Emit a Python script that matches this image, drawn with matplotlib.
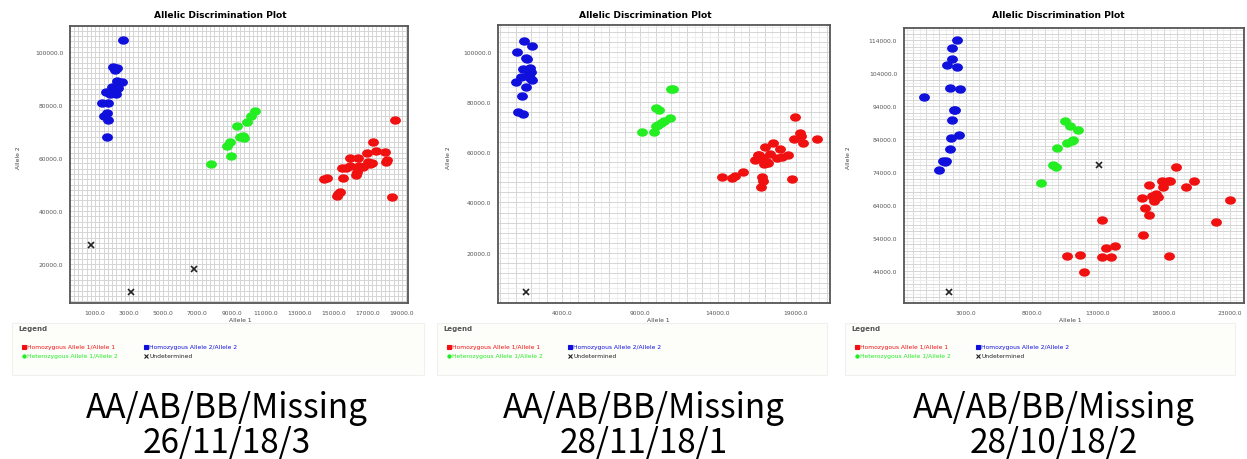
import matplotlib
matplotlib.use("Agg")
import matplotlib.pyplot as plt
import numpy as np
from matplotlib.path import Path
from matplotlib.patches import Rectangle
from matplotlib.ticker import FixedLocator

# ---- panel 1 : 26/11/18/3 ----
p1_aa_x = [14400, 14600, 15170, 15370, 15270, 15470, 15560, 15950, 15950, 16340, 16300, 16440, 16500,
           16930, 17030, 17230, 17320, 17480, 18010, 18100, 18050, 18400, 18590, 16700, 15700, 17130]
p1_aa_y = [52100, 52500, 45800, 47300, 46600, 56100, 52300, 60100, 57100, 54600, 53600, 60100, 57100,
           61800, 58600, 58000, 66200, 62600, 62300, 59100, 58600, 45400, 74400, 56600, 56300, 57600]
p1_ab_x = [7790, 8730, 8920, 8960, 9350, 9510, 9750, 9900, 10140, 10390, 9650]
p1_ab_y = [57700, 64700, 66200, 60900, 72000, 67900, 67400, 73600, 75900, 77800, 68200]
p1_bb_x = [2660, 2080, 2270, 2180, 2270, 2600, 2000, 2370, 1650, 2080, 1850, 2230, 1420, 1750,
           1700, 1550, 1750, 1700]
p1_bb_y = [104400, 94300, 94000, 93200, 89200, 88700, 86600, 86500, 85000, 85700, 84300, 84000,
           80900, 80900, 76900, 75700, 74200, 67900]
p1_na_x = [745, 3090, 6800]
p1_na_y = [27000, 9300, 18100]
p1_xticks = [1000, 3000, 5000, 7000, 9000, 11000, 13000, 15000, 17000, 19000]
p1_yticks = [20000, 40000, 60000, 80000, 100000]

# ---- panel 2 : 28/11/18/1 ----
p2_aa_x = [14240, 14880, 15090, 15630, 16380, 16660, 16810, 16880, 16750, 16960, 17030, 17130, 17350,
           17560, 17820, 17990, 18090, 18520, 18730, 18880, 18950, 19270, 19330, 19480, 20340, 16920,
           17240, 16590]
p2_aa_y = [50300, 49700, 50500, 52100, 56800, 59000, 50300, 48500, 46200, 55400, 62000, 56000, 59300,
           63700, 57600, 61100, 58000, 58700, 49300, 65300, 73900, 67500, 66600, 63700, 65300, 57600,
           55600, 58700]
p2_ab_x = [9090, 9910, 10010, 10170, 9990, 10200, 10540, 10910, 11080, 11000, 10350]
p2_ab_y = [68200, 68200, 70600, 71000, 77600, 76800, 72300, 73500, 85200, 85000, 71800]
p2_bb_x = [1510, 2030, 1100, 1680, 1750, 1470, 1900, 2000, 1790, 1360, 1900, 2070, 1040, 1750,
           1640, 1400, 1150, 1470]
p2_bb_y = [104400, 102400, 100000, 97400, 97100, 93100, 93500, 92100, 92800, 90100, 89600, 88700,
           87800, 90200, 85800, 82500, 75900, 75200]
p2_na_x = [1680]
p2_na_y = [4400]
p2_xticks = [4000, 9000, 14000, 19000]
p2_yticks = [20000, 40000, 60000, 80000, 100000]

# ---- panel 3 : 28/10/18/2 ----
p3_aa_x = [18920, 16900, 16350, 16600, 16900, 16400, 17280, 17100, 17400, 17530, 17860, 18040, 18290,
           18490, 17910, 19680, 20310, 23000, 21990, 18420, 13340, 13640, 14270, 14010, 13310, 11620,
           10640, 11940]
p3_aa_y = [75600, 69900, 66000, 63000, 60800, 54700, 65300, 66800, 67300, 66300, 71100, 70900, 71100,
           71100, 69500, 69400, 71200, 65400, 58900, 48300, 59500, 50800, 51400, 48000, 48000, 48700,
           48300, 43700]
p3_ab_x = [8720, 9600, 9850, 9930, 10510, 10910, 11510, 10690, 11040, 11110]
p3_ab_y = [70700, 76000, 75500, 81200, 89400, 87900, 86600, 82900, 83300, 83600]
p3_bb_x = [2350, 1970, 1970, 1590, 2300, 1790, 2550, -150, 2120, 1970, 1870, 2480, 1790, 1290,
           1490, 960, 1390, 2200]
p3_bb_y = [114000, 111800, 108200, 106600, 105900, 99600, 99300, 96700, 92700, 89900, 84400, 85300,
           81000, 77300, 77200, 74500, 77000, 92900]
p3_na_x = [1690, 13080]
p3_na_y = [37400, 76200]
p3_xticks = [3000, 8000, 13000, 18000, 23000]
p3_yticks = [44000, 54000, 64000, 74000, 84000, 94000, 104000, 114000]

captions = ["26/11/18/3", "28/11/18/1", "28/10/18/2"]
legend_labels = ["Homozygous Allele 1/Allele 1", "Homozygous Allele 2/Allele 2",
                 "Heterozygous Allele 1/Allele 2", "Undetermined"]

RED, GREEN, BLUE = "#f01010", "#22ee22", "#1010dd"

W, H = 1247, 460
fig = plt.figure(figsize=(W / 100, H / 100), dpi=100)
fig.patch.set_facecolor("white")

# slightly flattened dot, like the instrument software draws
ell = Path(Path.unit_circle().vertices * np.array([1.35, 1.0]), Path.unit_circle().codes)


def px_axes(l, t, r, b):
    return fig.add_axes([l / W, 1 - b / H, (r - l) / W, (b - t) / H])


def draw_panel(box, xlim, ylim, xticks, yticks, grid_x, grid_y, aa, ab, bb, na):
    l, t, r, b = box
    ax = px_axes(l, t, r, b)
    ax.set_xlim(*xlim)
    ax.set_ylim(*ylim)
    ax.xaxis.set_major_locator(FixedLocator(xticks))
    ax.yaxis.set_major_locator(FixedLocator(yticks))
    ax.set_xticklabels([f"{v:.1f}" for v in xticks])
    ax.set_yticklabels([f"{v:.1f}" for v in yticks])
    ax.tick_params(length=0, labelsize=4.3, labelcolor="#555555", pad=5)
    # background grid
    for v in np.arange(np.ceil(xlim[0] / grid_x[1]) * grid_x[1], xlim[1], grid_x[1]):
        ax.axvline(v, color="#ebebeb", lw=0.6, zorder=0)
    for v in np.arange(np.ceil(xlim[0] / grid_x[0]) * grid_x[0], xlim[1], grid_x[0]):
        ax.axvline(v, color="#d2d2d2", lw=0.6, zorder=0)
    for v in np.arange(np.ceil(ylim[0] / grid_y[1]) * grid_y[1], ylim[1], grid_y[1]):
        ax.axhline(v, color="#ebebeb", lw=0.6, zorder=0)
    for v in np.arange(np.ceil(ylim[0] / grid_y[0]) * grid_y[0], ylim[1], grid_y[0]):
        ax.axhline(v, color="#d2d2d2", lw=0.6, zorder=0)
    for s in ax.spines.values():
        s.set_color("#555555")
        s.set_linewidth(1.3)
    ms = 6.8
    ax.plot(aa[0], aa[1], ls="none", marker=ell, ms=ms, color=RED, mec=RED, zorder=3)
    ax.plot(ab[0], ab[1], ls="none", marker=ell, ms=ms, color=GREEN, mec=GREEN, zorder=3)
    ax.plot(bb[0], bb[1], ls="none", marker=ell, ms=ms, color=BLUE, mec=BLUE, zorder=3)
    ax.plot(na[0], na[1], ls="none", marker="x", ms=5, mew=1.2, color="#222222", zorder=3)
    return ax


def frame_text(title_x, ylab_x, xlab_x, leg_x, leg_x2, leg_w, caption, cap_x):
    fig.text(title_x / W, 1 - 15 / H, "Allelic Discrimination Plot", ha="center", va="center",
             fontsize=6.6, fontweight="bold", family="DejaVu Sans")
    fig.text(ylab_x / W, 1 - 158 / H, "Allele 2", rotation=90, ha="center", va="center",
             fontsize=4.3, color="#444444")
    fig.text(xlab_x / W, 1 - 321 / H, "Allele 1", ha="center", va="center",
             fontsize=4.3, color="#444444")
    # legend area under the plot
    fig.patches.append(Rectangle(((leg_x - 12) / W, 1 - 376 / H), leg_w / W, 52 / H,
                                 transform=fig.transFigure, facecolor="#fdfdfa",
                                 edgecolor="#f0f0f0", lw=0.8, zorder=0))
    fig.text((leg_x - 6) / W, 1 - 329 / H, "Legend", fontsize=5, fontweight="bold",
             color="#555555", va="center")
    entries = [(leg_x, 348, RED, "s", legend_labels[0]), (leg_x2, 348, BLUE, "s", legend_labels[1]),
               (leg_x, 357, GREEN, "o", legend_labels[2]), (leg_x2, 357, "#222222", "x", legend_labels[3])]
    for ex, ey, c, m, lab in entries:
        fig.lines.append(plt.Line2D([ex / W], [1 - ey / H], transform=fig.transFigure,
                                    marker=m, ms=2.3, color=c, mew=0.8, ls="none"))
        fig.text((ex + 3) / W, 1 - ey / H, lab, fontsize=4.3, color=c, va="center")
    fig.text(cap_x / W, 1 - 409 / H, "AA/AB/BB/Missing", ha="center", va="center",
             fontsize=24, family=["Noto Sans CJK KR", "DejaVu Sans"])
    fig.text(cap_x / W, 1 - 444 / H, caption, ha="center", va="center",
             fontsize=24, family=["Noto Sans CJK KR", "DejaVu Sans"])


draw_panel((70, 27, 408, 304), (-470, 19350), (5300, 109800), p1_xticks, p1_yticks,
           (250, 250), (2000, 2000),
           (p1_aa_x, p1_aa_y), (p1_ab_x, p1_ab_y), (p1_bb_x, p1_bb_y), (p1_na_x, p1_na_y))
draw_panel((498, 26, 830, 304), (-140, 21200), (0, 110600), p2_xticks, p2_yticks,
           (1000, 500), (4000, 2000),
           (p2_aa_x, p2_aa_y), (p2_ab_x, p2_ab_y), (p2_bb_x, p2_bb_y), (p2_na_x, p2_na_y))
draw_panel((904, 29, 1244, 304), (-1690, 24080), (34160, 117750), p3_xticks, p3_yticks,
           (1000, 500), (2000, 1000),
           (p3_aa_x, p3_aa_y), (p3_ab_x, p3_ab_y), (p3_bb_x, p3_bb_y), (p3_na_x, p3_na_y))

frame_text(220, 18, 240, 24, 146, 412, captions[0], 227)
frame_text(645, 448, 658, 449, 570, 390, captions[1], 644)
frame_text(1058, 848, 1070, 857, 978, 390, captions[2], 1054)

fig.savefig("out.png", dpi=100, facecolor="white")
